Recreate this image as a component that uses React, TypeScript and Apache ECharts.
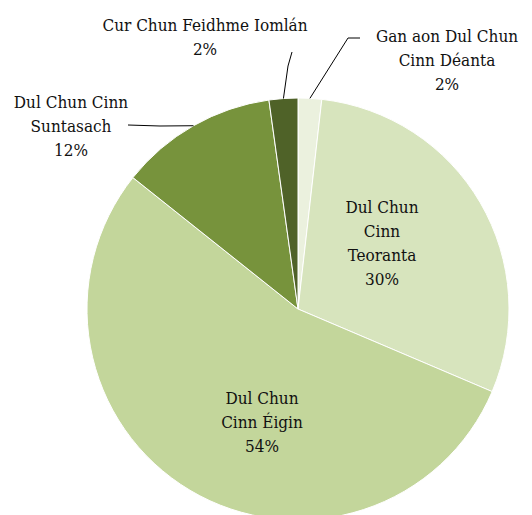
import React, { useEffect, useRef } from "react";
import * as echarts from "echarts";

const categories = [
  "Gan aon Dul Chun Cinn Déanta",
  "Dul Chun Cinn Teoranta",
  "Dul Chun Cinn Éigin",
  "Dul Chun Cinn Suntasach",
  "Cur Chun Feidhme Iomlán",
];
const labelTexts = [
  "Gan aon Dul Chun\nCinn Déanta",
  "Dul Chun\nCinn\nTeoranta",
  "Dul Chun\nCinn Éigin",
  "Dul Chun Cinn\nSuntasach",
  "Cur Chun Feidhme Iomlán",
];
const values = [1.8, 29.6, 54.3, 12.1, 2.2];
const percentLabels = [2, 30, 54, 12, 2];
const colors = ["#ebf1de", "#d7e4bd", "#c3d69b", "#77933c", "#4f6228"];
const outside = [true, false, false, true, true];

const CX = 298;
const CY = 309;
const R = 211;

const labelPos: { x: number; y: number }[] = [
  { x: 447, y: 60 },
  { x: 382, y: 243 },
  { x: 262, y: 422 },
  { x: 71, y: 126 },
  { x: 205, y: 37 },
];
const linePts: number[][][] = [
  [[348, 38], [360, 38]],
  [],
  [],
  [[160, 126], [128, 125]],
  [[288, 66], [292, 52]],
];

const FONT = "DejaVu Serif Condensed";

export default function App() {
  const ref = useRef<HTMLDivElement>(null);
  useEffect(() => {
    document.body.style.margin = "0";
    const chart = echarts.init(ref.current!, null, { renderer: "svg" });
    const total = values.reduce((a, b) => a + b, 0);
    let cum = 0;
    const starts = values.map((v) => {
      const f = (cum + v / 2) / total;
      cum += v;
      const th = f * Math.PI * 2;
      return [CX + R * Math.sin(th), CY - R * Math.cos(th)];
    });
    const texts = categories.map((_, i) => ({
      type: "text",
      x: labelPos[i].x,
      y: labelPos[i].y,
      z: 10,
      style: {
        text: `${labelTexts[i]}\n${percentLabels[i]}%`,
        fontFamily: FONT,
        fontSize: 17,
        lineHeight: 24,
        fill: "#111111",
        align: "center",
        verticalAlign: "middle",
      },
    }));
    const lines = categories
      .map((_, i) => i)
      .filter((i) => outside[i])
      .map((i) => ({
        type: "polyline",
        z: 10,
        shape: { points: [starts[i], ...linePts[i]] },
        style: { stroke: "#000000", lineWidth: 1, fill: "none" },
      }));
    chart.setOption({
      animation: false,
      backgroundColor: "#ffffff",
      graphic: [...lines, ...texts],
      series: [
        {
          type: "pie",
          center: [CX, CY],
          radius: R,
          startAngle: 90,
          clockwise: true,
          avoidLabelOverlap: false,
          itemStyle: { borderColor: "#ffffff", borderWidth: 1 },
          label: { show: false },
          labelLine: { show: false },
          emphasis: { disabled: true },
          data: categories.map((name, i) => ({
            name,
            value: values[i],
            itemStyle: { color: colors[i] },
          })),
        },
      ],
    });
    return () => chart.dispose();
  }, []);
  return <div ref={ref} style={{ width: 532, height: 515 }} />;
}
